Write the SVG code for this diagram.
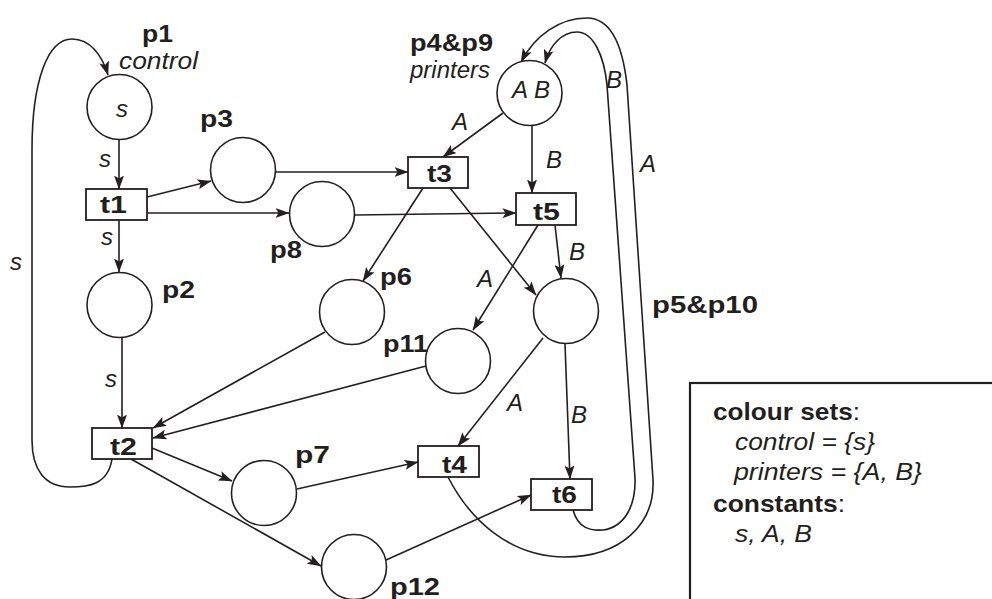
<svg xmlns="http://www.w3.org/2000/svg" width="992" height="599" viewBox="0 0 992 599">
<defs>
<marker id="ah" viewBox="0 0 14 10" refX="13.5" refY="5" markerWidth="14" markerHeight="10" markerUnits="userSpaceOnUse" orient="auto">
<path d="M0,0 L14,5 L0,10 L3,5 z" fill="#231f20"/>
</marker>
<style>
.pl{fill:#fff;stroke:#231f20;stroke-width:1.6}
.tr{fill:#fff;stroke:#231f20;stroke-width:1.8}
.arc{fill:none;stroke:#231f20;stroke-width:1.6}
.ar{marker-end:url(#ah)}
.b{font-family:"Liberation Sans",Arial,sans-serif;font-weight:bold;font-size:24px;fill:#231f20}
.i{font-family:"Liberation Sans",Arial,sans-serif;font-style:italic;font-size:24px;fill:#231f20}
.tc{text-anchor:middle}
</style>
</defs>
<rect width="992" height="599" fill="#fff"/>

<g id="connectors">
<path class="arc ar" d="M119 140 L119 189"/>
<path class="arc ar" d="M147 197 L211 181"/>
<path class="arc ar" d="M147 213 L289 213"/>
<path class="arc ar" d="M119 220 L119 272"/>
<path class="arc ar" d="M122 338 L122 428"/>
<path class="arc ar" d="M276 172 L408 172"/>
<path class="arc ar" d="M355 215 L516 213"/>
<path class="arc ar" d="M503 113 L443 157"/>
<path class="arc ar" d="M532 126 L532 193"/>
<path class="arc ar" d="M423 188 L363 281"/>
<path class="arc ar" d="M450 188 L536 295"/>
<path class="arc ar" d="M538 225 L473 330"/>
<path class="arc ar" d="M555 225 L561 278"/>
<path class="arc ar" d="M543 338 L458 446"/>
<path class="arc ar" d="M565 344 L570 479"/>
<path class="arc ar" d="M325 332 L153 428"/>
<path class="arc ar" d="M426 366 L153 438"/>
<path class="arc ar" d="M152 448 L232 481"/>
<path class="arc ar" d="M131 459 L321 566"/>
<path class="arc ar" d="M297 489 L418 462"/>
<path class="arc ar" d="M386 560 L531 495"/>
<path class="arc ar" d="M112 459 C108 485 88 487 70 487 C45 487 32 470 32 440 L32 150 C32 80 48 39 72 39 C90 39 102 55 108 75"/>
<path class="arc ar" d="M448 477 C470 520 510 557 565 557 C620 557 655 525 653 480 L627 85 C622 40 608 18 587 18 C560 18 535 35 521 62"/>
<path class="arc ar" d="M573 510 C578 528 590 531 603 530 C625 527 636 505 635 478 L607 85 C604 55 593 32 577 32 C562 32 550 45 545 63"/>
<text class="i" x="99" y="167">s</text>
<text class="i" x="101" y="245">s</text>
<text class="i" x="10" y="270">s</text>
<text class="i" x="105" y="387">s</text>
<text class="i" x="452" y="130">A</text>
<text class="i" x="546" y="168">B</text>
<text class="i" x="569" y="260">B</text>
<text class="i" x="477" y="287">A</text>
<text class="i" x="507" y="411">A</text>
<text class="i" x="571" y="423">B</text>
<text class="i" x="606" y="88">B</text>
<text class="i" x="640" y="172">A</text>
</g>

<g id="p1"><circle class="pl" cx="119.5" cy="107" r="32.5"/><text class="i tc" x="122" y="117">s</text><text class="b" x="142" y="42" textLength="31" lengthAdjust="spacingAndGlyphs">p1</text><text class="i" x="119" y="69" textLength="79" lengthAdjust="spacingAndGlyphs">control</text></g>
<g id="p2"><circle class="pl" cx="119.5" cy="305" r="32.5"/><text class="b" x="162" y="298" textLength="33" lengthAdjust="spacingAndGlyphs">p2</text></g>
<g id="p3"><circle class="pl" cx="243" cy="170" r="32.5"/><text class="b" x="200" y="127" textLength="33" lengthAdjust="spacingAndGlyphs">p3</text></g>
<g id="p8"><circle class="pl" cx="322" cy="214" r="32.5"/><text class="b" x="270" y="258" textLength="32" lengthAdjust="spacingAndGlyphs">p8</text></g>
<g id="p4p9"><circle class="pl" cx="529.5" cy="93" r="32.5"/><text class="i tc" x="531" y="98">A B</text><text class="b" x="410" y="51" textLength="83" lengthAdjust="spacingAndGlyphs">p4&amp;p9</text><text class="i" x="410" y="78" textLength="80" lengthAdjust="spacingAndGlyphs">printers</text></g>
<g id="p6"><circle class="pl" cx="352" cy="312" r="32.5"/><text class="b" x="380" y="285" textLength="32" lengthAdjust="spacingAndGlyphs">p6</text></g>
<g id="p11"><circle class="pl" cx="458" cy="361" r="32.5"/><text class="b" x="383" y="352" textLength="45" lengthAdjust="spacingAndGlyphs">p11</text></g>
<g id="p5p10"><circle class="pl" cx="566" cy="311" r="32.5"/><text class="b" x="652" y="313" font-size="26" textLength="106" lengthAdjust="spacingAndGlyphs">p5&amp;p10</text></g>
<g id="p7"><circle class="pl" cx="264" cy="493" r="32.5"/><text class="b" x="295" y="463" textLength="35" lengthAdjust="spacingAndGlyphs">p7</text></g>
<g id="p12"><circle class="pl" cx="354" cy="567" r="32.5"/><text class="b" x="390" y="595" textLength="50" lengthAdjust="spacingAndGlyphs">p12</text></g>

<g id="t1"><rect class="tr" x="86" y="189" width="61" height="31"/><text class="b" x="100" y="213" textLength="27" lengthAdjust="spacingAndGlyphs">t1</text></g>
<g id="t2"><rect class="tr" x="92" y="428" width="60" height="31"/><text class="b" x="110" y="455" textLength="27" lengthAdjust="spacingAndGlyphs">t2</text></g>
<g id="t3"><rect class="tr" x="408" y="157" width="60" height="31"/><text class="b" x="427" y="182" textLength="25" lengthAdjust="spacingAndGlyphs">t3</text></g>
<g id="t5"><rect class="tr" x="516" y="193" width="60" height="32"/><text class="b" x="533" y="220" textLength="27" lengthAdjust="spacingAndGlyphs">t5</text></g>
<g id="t4"><rect class="tr" x="418" y="446" width="61" height="31"/><text class="b" x="442" y="473" textLength="25" lengthAdjust="spacingAndGlyphs">t4</text></g>
<g id="t6"><rect class="tr" x="531" y="479" width="61" height="31"/><text class="b" x="552" y="503" textLength="25" lengthAdjust="spacingAndGlyphs">t6</text></g>

<g id="legend">
<rect x="690" y="383" width="400" height="300" fill="#fff" stroke="#231f20" stroke-width="2.2"/>
<text class="b" x="713" y="420" textLength="147" lengthAdjust="spacingAndGlyphs">colour sets<tspan font-weight="normal">:</tspan></text>
<text class="i" x="735" y="450" textLength="140" lengthAdjust="spacingAndGlyphs">control = {s}</text>
<text class="i" x="734" y="480" textLength="188" lengthAdjust="spacingAndGlyphs">printers = {A, B}</text>
<text class="b" x="713" y="512" textLength="132" lengthAdjust="spacingAndGlyphs">constants<tspan font-weight="normal">:</tspan></text>
<text class="i" x="735" y="542" textLength="77" lengthAdjust="spacingAndGlyphs">s, A, B</text>
</g>
</svg>
